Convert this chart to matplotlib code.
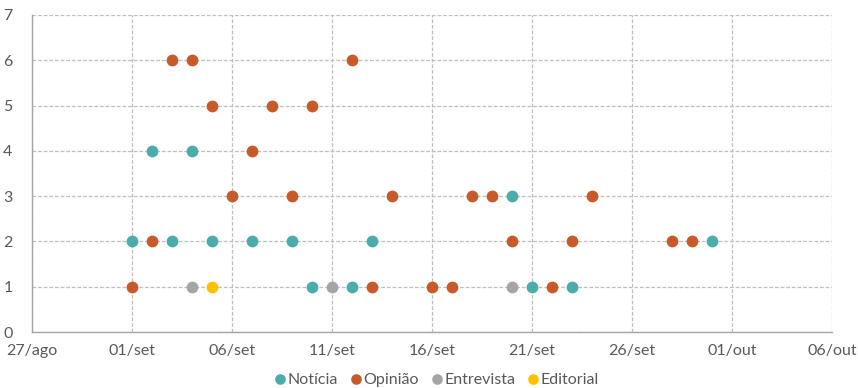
#!/usr/bin/env python3
"""Dispersão de textos publicados por dia, por tipo (Notícia, Opinião,
Entrevista, Editorial). Estilo próximo ao gráfico de dispersão do Excel.

Saída: out.png
"""

from datetime import date, timedelta

import matplotlib.pyplot as plt
import matplotlib.dates as mdates
from matplotlib.ticker import FuncFormatter, MultipleLocator


ANO = 2019

# (dia, mês, quantidade) para cada tipo de texto
NOTICIA = [
    (2, 9, 4), (4, 9, 4), (20, 9, 3),
    (1, 9, 2), (3, 9, 2), (5, 9, 2), (7, 9, 2), (9, 9, 2), (13, 9, 2), (30, 9, 2),
    (10, 9, 1), (12, 9, 1), (21, 9, 1), (23, 9, 1),
]
OPINIAO = [
    (3, 9, 6), (4, 9, 6), (12, 9, 6),
    (5, 9, 5), (8, 9, 5), (10, 9, 5),
    (7, 9, 4),
    (6, 9, 3), (9, 9, 3), (14, 9, 3), (18, 9, 3), (19, 9, 3), (24, 9, 3),
    (2, 9, 2), (20, 9, 2), (23, 9, 2), (28, 9, 2), (29, 9, 2),
    (1, 9, 1), (13, 9, 1), (16, 9, 1), (17, 9, 1), (22, 9, 1),
]
ENTREVISTA = [(4, 9, 1), (11, 9, 1), (20, 9, 1)]
EDITORIAL = [(5, 9, 1)]

SERIES = ["Notícia", "Opinião", "Entrevista", "Editorial"]
CORES = ["#4BACAC", "#C85A2A", "#A5A5A5", "#FFC000"]

MESES = {8: "ago", 9: "set", 10: "out"}
INICIO = date(ANO, 8, 27)
FIM = date(ANO, 10, 6)


def separa(pontos):
    xs = [date(ANO, m, d) for d, m, _ in pontos]
    ys = [q for _, _, q in pontos]
    return xs, ys


def main():
    plt.rcParams["font.family"] = ["Lato", "DejaVu Sans"]

    fig = plt.figure(figsize=(8.58, 3.88), dpi=100)
    ax = fig.add_axes([32 / 858, 1 - 332 / 388, 800 / 858, 317 / 388])

    for nome, pontos, cor in zip(SERIES, [NOTICIA, OPINIAO, ENTREVISTA, EDITORIAL], CORES):
        xs, ys = separa(pontos)
        ax.scatter(xs, ys, s=72, color=cor, label=nome, zorder=3, linewidths=0)

    ax.set_xlim(INICIO, FIM)
    ax.set_ylim(0, 7)

    ticks = [INICIO + timedelta(days=5 * i) for i in range(9)]
    ax.set_xticks(ticks)
    ax.xaxis.set_major_formatter(FuncFormatter(
        lambda v, pos: (lambda d: f"{d.day:02d}/{MESES[d.month]}")(mdates.num2date(v))))
    ax.yaxis.set_major_locator(MultipleLocator(1))

    ax.grid(True, color="#BFBFBF", linestyle=(0, (3, 1.5)), linewidth=0.9, zorder=0)
    for lado in ["top", "right"]:
        ax.spines[lado].set_visible(False)
    for lado in ["left", "bottom"]:
        ax.spines[lado].set_color("#A6A6A6")
        ax.spines[lado].set_linewidth(1.0)
    ax.tick_params(length=0, labelsize=11.5, colors="#595959", pad=9)
    ax.tick_params(axis="y", pad=14)

    fig.legend(loc="center", bbox_to_anchor=(0.507, 0.022), ncol=4, frameon=False,
               fontsize=11.5, labelcolor="#595959", handletextpad=-0.1,
               handlelength=1.1, columnspacing=0.6, markerscale=0.9, borderpad=0.0)

    fig.savefig("out.png", dpi=100)
    plt.close(fig)


if __name__ == "__main__":
    main()
